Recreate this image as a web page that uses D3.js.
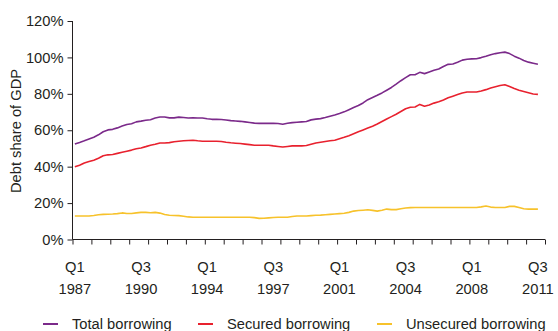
<!DOCTYPE html>
<html>
<head>
<meta charset="utf-8">
<script src="https://cdn.jsdelivr.net/npm/d3@7"></script>
<style>
  html, body { margin: 0; padding: 0; background: #fff; }
  svg { display: block; font-family: "Liberation Sans", Arial, sans-serif; }
  .axis text { font-size: 14.7px; fill: #231f20; }
  .axis path, .axis line { stroke: #231f20; stroke-width: 1; }
</style>
</head>
<body>
<svg id="chart" width="558" height="331"></svg>
<script>
// Quarterly debt as a share of GDP, 1987 Q1 – 2011 Q3
const startYear = 1987;
const total = [
  52.5, 53.3, 54.2, 55.2, 56.2, 57.5, 59.2, 60.2, 60.5, 61.3,
  62.3, 63.2, 63.6, 64.6, 65.0, 65.5, 65.8, 66.7, 67.3, 67.3,
  66.8, 66.8, 67.2, 67.0, 66.7, 66.8, 66.7, 66.7, 66.3, 66.0,
  66.0, 65.9, 65.6, 65.3, 65.1, 64.9, 64.6, 64.3, 63.9, 63.8,
  63.8, 63.8, 63.8, 63.7, 63.3, 63.8, 64.2, 64.4, 64.6, 64.8,
  65.7, 66.1, 66.4, 67.0, 67.7, 68.4, 69.2, 70.1, 71.3, 72.5,
  73.6, 75.0, 76.8, 78.0, 79.2, 80.5, 82.0, 83.5, 85.3, 87.2,
  88.9, 90.5, 90.5, 91.8, 91.1, 92.0, 92.9, 93.6, 95.0, 96.2,
  96.4, 97.3, 98.5, 99.0, 99.2, 99.3, 99.9, 100.6, 101.5, 102.1,
  102.6, 102.9, 102.1, 100.7, 99.6, 98.3, 97.4, 96.8, 96.2
];
const secured = [
  39.9, 40.8, 42.0, 42.8, 43.5, 44.6, 46.0, 46.5, 46.7, 47.3,
  47.9, 48.5, 49.1, 49.8, 50.3, 51.0, 51.8, 52.3, 53.0, 53.0,
  53.2, 53.7, 54.0, 54.2, 54.4, 54.5, 54.2, 54.0, 54.0, 54.0,
  54.0, 53.8, 53.4, 53.1, 52.9, 52.7, 52.4, 52.1, 51.8, 51.8,
  51.8, 51.8, 51.4, 51.1, 50.8, 51.1, 51.4, 51.4, 51.4, 51.6,
  52.3, 53.0, 53.4, 53.8, 54.2, 54.5, 55.3, 56.1, 57.0, 58.1,
  59.2, 60.2, 61.2, 62.2, 63.4, 64.8, 66.2, 67.5, 68.8, 70.3,
  71.8, 72.6, 72.8, 74.2, 73.2, 73.9, 74.9, 75.6, 76.6, 77.8,
  78.7, 79.6, 80.5, 81.0, 81.0, 81.0, 81.6, 82.3, 83.2, 83.9,
  84.6, 85.0, 84.0, 82.9, 82.0, 81.3, 80.6, 79.9, 79.7
];
const unsecured = [
  12.9, 12.9, 12.9, 12.9, 13.2, 13.6, 13.8, 13.9, 14.0, 14.2,
  14.6, 14.3, 14.3, 14.6, 14.9, 14.9, 14.7, 14.9, 14.5, 13.7,
  13.3, 13.2, 13.1, 12.8, 12.4, 12.2, 12.2, 12.2, 12.2, 12.2,
  12.2, 12.2, 12.2, 12.2, 12.2, 12.2, 12.2, 12.2, 12.0, 11.6,
  11.7, 11.9, 12.1, 12.2, 12.2, 12.2, 12.6, 12.9, 12.9, 12.9,
  13.1, 13.3, 13.4, 13.6, 13.8, 14.0, 14.2, 14.4, 14.9, 15.6,
  15.9, 16.1, 16.3, 16.0, 15.6, 16.1, 16.7, 16.4, 16.4, 16.9,
  17.3, 17.5, 17.6, 17.6, 17.6, 17.6, 17.6, 17.6, 17.6, 17.6,
  17.6, 17.6, 17.6, 17.6, 17.6, 17.6, 17.9, 18.4, 17.8, 17.6,
  17.6, 17.6, 18.2, 18.2, 17.6, 16.9, 16.7, 16.7, 16.7
];
const seriesNames = ["Total borrowing", "Secured borrowing", "Unsecured borrowing"];
const seriesColors = ["#7b2a8a", "#e8212e", "#f7c22b"];
const yTicks = [0, 20, 40, 60, 80, 100, 120];
// Labelled quarters (index from 1987 Q1), every 3.5 years
const labelQuarters = [0, 14, 28, 42, 56, 70, 84, 98];

const svg = d3.select("#chart");
const plotLeft = 72.5, plotRight = 545, plotTop = 21, plotBottom = 239.5;

const nQ = total.length;
const x = d3.scaleLinear().domain([-0.5, nQ + 0.5]).range([plotLeft, plotRight]);
const y = d3.scaleLinear().domain([0, 120]).range([plotBottom, plotTop]);

// Y axis
const yAxis = d3.axisLeft(y).tickValues(yTicks).tickSize(5).tickPadding(4)
  .tickFormat(d => d + "%");
const gy = svg.append("g").attr("class", "axis").attr("transform", `translate(${plotLeft},0)`).call(yAxis);
gy.select(".domain").attr("d", `M0,${plotTop}V${plotBottom}`);

// X axis: a tick at every year boundary
const yearTicks = d3.range(-0.5, nQ + 1, 4);
const xAxis = d3.axisBottom(x).tickValues(yearTicks).tickSize(5).tickFormat("");
const gx = svg.append("g").attr("class", "axis").attr("transform", `translate(0,${plotBottom})`).call(xAxis);
gx.select(".domain").attr("d", `M${plotLeft},0H${plotRight}`);

// Quarter / year labels
const lab = svg.append("g").attr("class", "axis");
labelQuarters.forEach(q => {
  const yr = startYear + Math.floor(q / 4);
  const qq = "Q" + (q % 4 + 1);
  lab.append("text").attr("x", x(q)).attr("y", 272).attr("text-anchor", "middle").text(qq);
  lab.append("text").attr("x", x(q)).attr("y", 294).attr("text-anchor", "middle").text(yr);
});

// Y axis title
svg.append("text")
  .attr("transform", `translate(21,131) rotate(-90)`)
  .attr("text-anchor", "middle")
  .style("font-size", "14.7px").style("fill", "#231f20")
  .text("Debt share of GDP");

// Lines
const line = d3.line().x((d, i) => x(i)).y(d => y(d));
[total, secured, unsecured].forEach((s, k) => {
  svg.append("path").datum(s)
    .attr("fill", "none")
    .attr("stroke", seriesColors[k])
    .attr("stroke-width", 1.6)
    .attr("stroke-linejoin", "round")
    .attr("d", line);
});

// Legend
const legendX = [43, 198, 377];
const leg = svg.append("g");
seriesNames.forEach((name, k) => {
  leg.append("line")
    .attr("x1", legendX[k]).attr("x2", legendX[k] + 15)
    .attr("y1", 324).attr("y2", 324)
    .attr("stroke", seriesColors[k]).attr("stroke-width", 2);
  leg.append("text")
    .attr("x", legendX[k] + 29).attr("y", 329)
    .style("font-size", "14.7px").style("fill", "#231f20")
    .text(name);
});
</script>
</body>
</html>
